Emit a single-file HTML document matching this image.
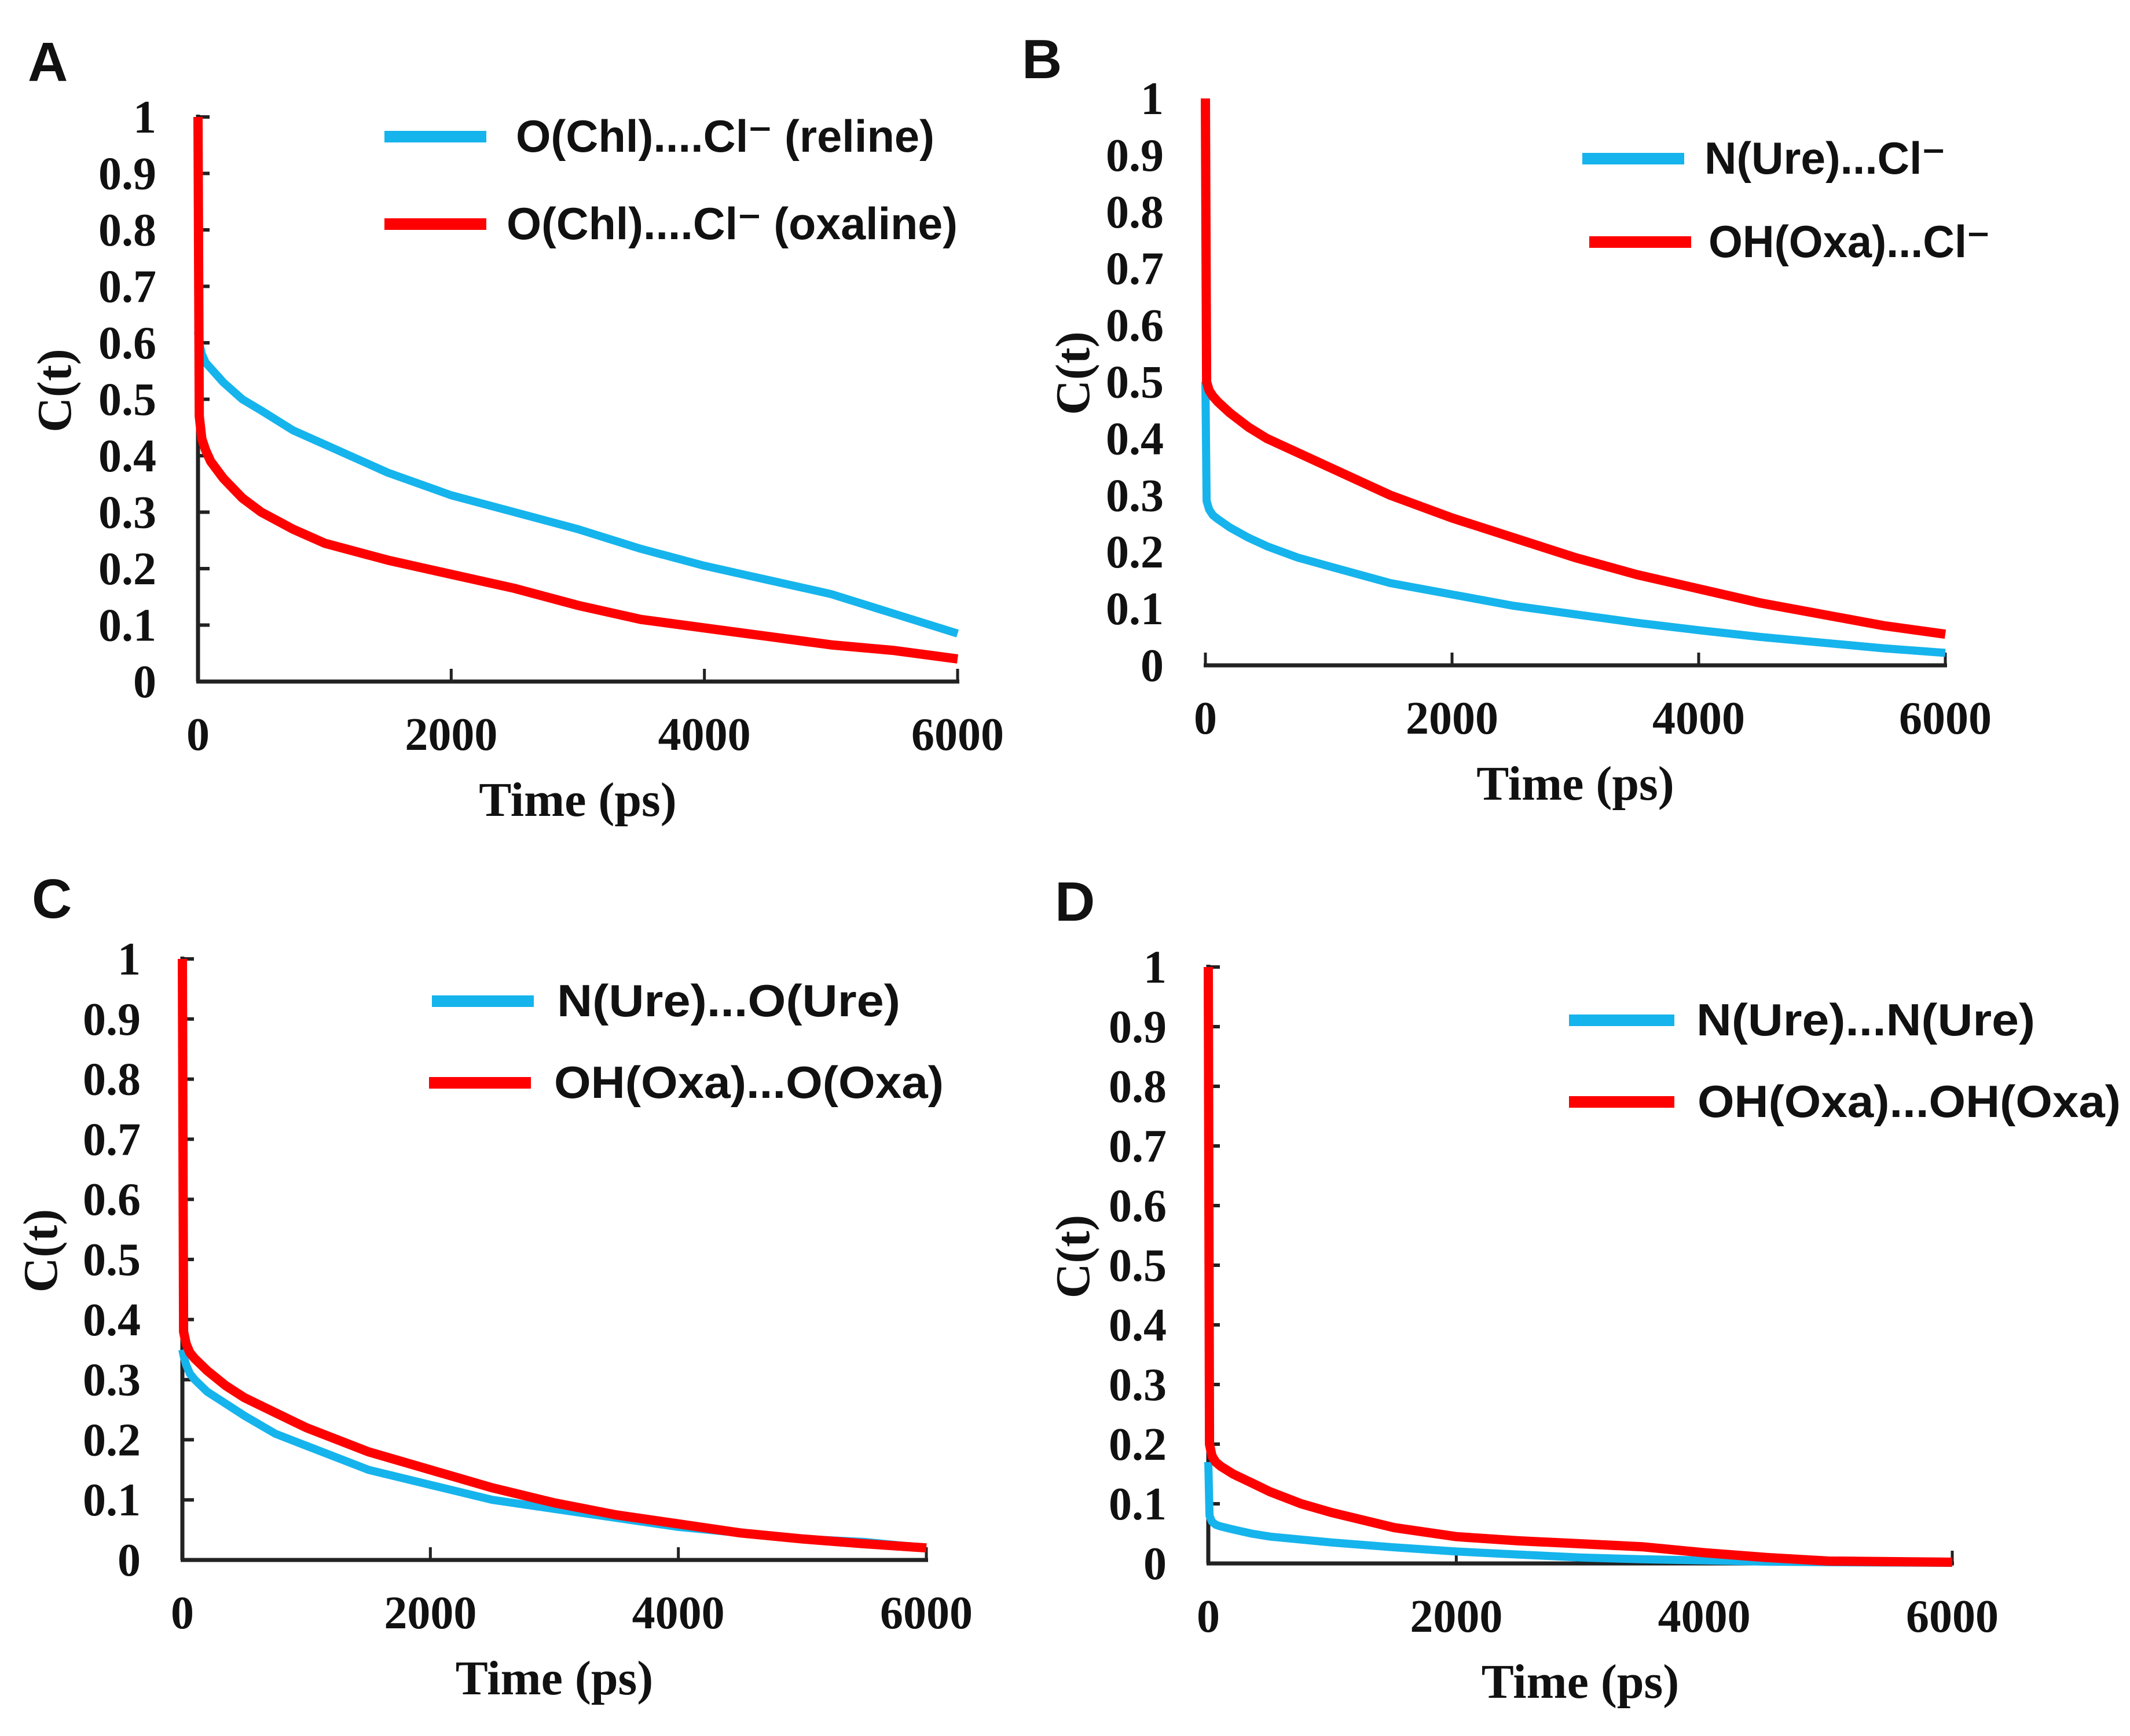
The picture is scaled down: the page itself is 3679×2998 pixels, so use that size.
<!DOCTYPE html>
<html><head><meta charset="utf-8"><style>
html,body{margin:0;padding:0;background:#fff}
svg{display:block}
.tk{font-family:"Liberation Serif",serif;font-weight:bold;font-size:80px;fill:#111}
.tt{font-family:"Liberation Serif",serif;font-weight:bold;font-size:84px;fill:#111}
.lg{font-family:"Liberation Sans",sans-serif;font-weight:bold;font-size:78px;fill:#111}
.pl{font-family:"Liberation Sans",sans-serif;font-weight:bold;font-size:96px;fill:#111}
</style></head><body>
<svg id="fig" width="3679" height="2998" viewBox="0 0 3679 2998" xmlns="http://www.w3.org/2000/svg"></svg>
<script>
const yTickLabels = ["0","0.1","0.2","0.3","0.4","0.5","0.6","0.7","0.8","0.9","1"];
const yTickValues = [0,0.1,0.2,0.3,0.4,0.5,0.6,0.7,0.8,0.9,1];
const xTickValues = [0,2000,4000,6000];
const xTickLabels = ["0","2000","4000","6000"];
const times = [0,10,30,60,100,200,350,500,750,1000,1500,2000,2500,3000,3500,4000,4500,5000,5500,6000];
const aBlue = [0.62,0.6,0.58,0.565,0.555,0.53,0.50,0.48,0.445,0.42,0.37,0.33,0.30,0.27,0.235,0.205,0.18,0.155,0.12,0.085];
const aRed  = [1,0.47,0.43,0.41,0.39,0.36,0.325,0.30,0.27,0.245,0.215,0.19,0.165,0.135,0.11,0.095,0.08,0.065,0.055,0.04];
const bBlue = [0.5,0.29,0.275,0.265,0.258,0.243,0.225,0.21,0.19,0.175,0.145,0.125,0.105,0.09,0.075,0.062,0.05,0.04,0.03,0.022];
const bRed  = [1,0.5,0.485,0.475,0.465,0.445,0.42,0.40,0.375,0.35,0.30,0.26,0.225,0.19,0.16,0.135,0.11,0.09,0.07,0.055];
const cBlue = [0.35,0.34,0.325,0.31,0.30,0.28,0.26,0.24,0.21,0.19,0.15,0.125,0.10,0.085,0.07,0.055,0.045,0.035,0.03,0.02];
const cRed  = [1,0.38,0.36,0.345,0.335,0.315,0.29,0.27,0.245,0.22,0.18,0.15,0.12,0.095,0.075,0.06,0.045,0.035,0.027,0.02];
const dBlue = [0.17,0.08,0.07,0.065,0.062,0.057,0.05,0.045,0.04,0.035,0.027,0.02,0.015,0.01,0.007,0.005,0.003,0.002,0.0015,0.001];
const dRed  = [1,0.2,0.18,0.17,0.163,0.15,0.135,0.12,0.1,0.085,0.06,0.045,0.038,0.033,0.028,0.018,0.01,0.004,0.003,0.002];
const legendA = ["O(Chl)....Cl\u207B (reline)","O(Chl)....Cl\u207B (oxaline)"];
const legendB = ["N(Ure)...Cl\u207B","OH(Oxa)...Cl\u207B"];
const legendC = ["N(Ure)...O(Ure)","OH(Oxa)...O(Oxa)"];
const legendD = ["N(Ure)...N(Ure)","OH(Oxa)...OH(Oxa)"];

const NS="http://www.w3.org/2000/svg";
const svg=document.getElementById('fig');
function mk(tag,attrs,parent){const e=document.createElementNS(NS,tag);for(const k in attrs)e.setAttribute(k,attrs[k]);(parent||svg).appendChild(e);return e;}

const panels=[
 {id:'a',letter:'A',lx:48,ly:140,x0:342,x1:1654,y0:1177,y1:202,yaxis:true,ttlX:94,blue:aBlue,red:aRed,leg:legendA,
  lg:[[664,840,236,891,723],[664,840,387,875,779]]},
 {id:'b',letter:'B',lx:1765,ly:135,x0:2082,x1:3360,y0:1149,y1:170,yaxis:false,ttlX:1853,blue:bBlue,red:bRed,leg:legendB,
  lg:[[2733,2909,274,2944,416],[2745,2921,418,2951,486]]},
 {id:'c',letter:'C',lx:55,ly:1585,x0:315,x1:1600,y0:2694,y1:1656,yaxis:true,ttlX:70,blue:cBlue,red:cRed,leg:legendC,
  lg:[[746,922,1729,962,593],[741,917,1870,957,673]]},
 {id:'d',letter:'D',lx:1822,ly:1590,x0:2087,x1:3372,y0:2700,y1:1670,yaxis:true,ttlX:1853,blue:dBlue,red:dRed,leg:legendD,
  lg:[[2710,2892,1762,2930,585],[2710,2892,1903,2932,731]]}
];

panels.forEach(p=>{
  const g=mk('g',{});
  
  
  const sx=v=>p.x0+(v-0)/6000*(p.x1-p.x0);
  const sy=v=>p.y0-(v)*(p.y0-p.y1);
  const lt=mk('text',{x:p.lx,y:p.ly,class:'pl'},g);lt.textContent=p.letter;
  
  
  if(p.yaxis){const ya=mk('line',{x1:p.x0,y1:p.y0,x2:p.x0,y2:p.y1-4,stroke:'#222','stroke-width':7},g);
    
    yTickValues.forEach(v=>{mk('line',{x1:p.x0,x2:p.x0+20,y1:sy(v),y2:sy(v),stroke:'#222','stroke-width':6},g);});
  }
  const xa=mk('line',{x1:p.x0-3,y1:p.y0,x2:p.x1+3,y2:p.y0,stroke:'#222','stroke-width':7},g);
  
  xTickValues.forEach(v=>{mk('line',{x1:sx(v),x2:sx(v),y1:p.y0,y2:p.y0-22,stroke:'#222','stroke-width':5},g);});
  yTickLabels.forEach((t,i)=>{const e=mk('text',{x:p.x0-72,y:sy(yTickValues[i])+27,class:'tk','text-anchor':'end'},g);e.textContent=t;
    });
  xTickLabels.forEach((t,i)=>{const e=mk('text',{x:sx(xTickValues[i]),y:p.y0+118,class:'tk','text-anchor':'middle'},g);e.textContent=t;
    });
  const xt=mk('text',{x:(p.x0+p.x1)/2,y:p.y0+232,class:'tt','text-anchor':'middle'},g);xt.textContent='Time (ps)';
  
  const cy=(p.y0+p.y1)/2-15;
  const yt=mk('text',{x:p.ttlX,y:cy,class:'tt','text-anchor':'middle',transform:`rotate(-90 ${p.ttlX} ${cy}) translate(0 28)`},g);yt.textContent='C(t)';
  
  [['blue',p.blue,'#16b4ec',14],['red',p.red,'#ff0000',16]].forEach(([nm,arr,col,w])=>{
    const d=arr.map((v,i)=>(i?'L':'M')+sx(times[i]).toFixed(1)+' '+sy(v).toFixed(1)).join(' ');
    const path=mk('path',{d:d,fill:'none',stroke:col,'stroke-width':w,'stroke-linejoin':'round'},g);
    
    
  });
  p.lg.forEach((L,i)=>{
    const col=i?'#ff0000':'#16b4ec';
    const sw=mk('line',{x1:L[0],x2:L[1],y1:L[2],y2:L[2],stroke:col,'stroke-width':20},g);
    
    const tx=mk('text',{x:L[3],y:L[2]+26,class:'lg',textLength:L[4],lengthAdjust:'spacingAndGlyphs'},g);
    tx.textContent=p.leg[i];
    
  });
});
</script>
</body></html>
